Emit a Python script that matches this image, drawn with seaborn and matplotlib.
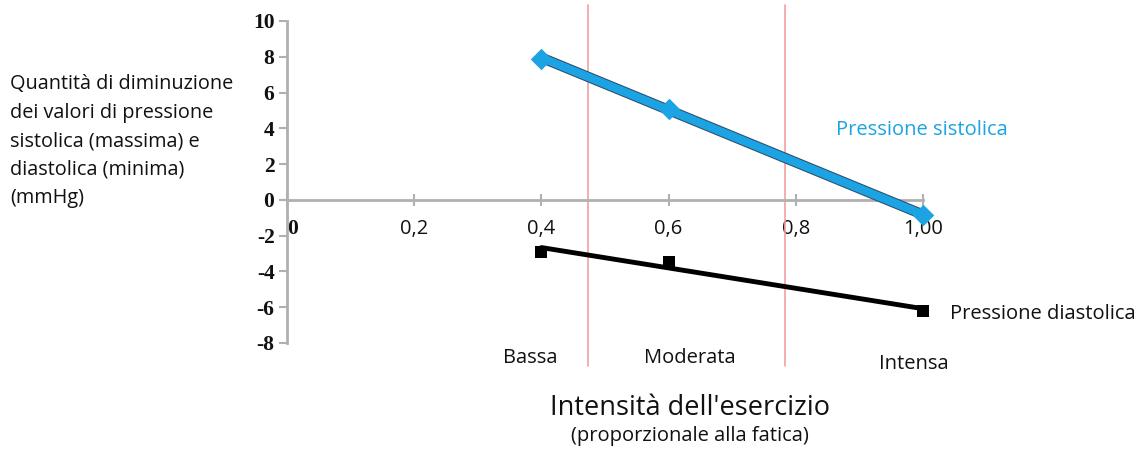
import numpy as np
import pandas as pd
import matplotlib as mpl
mpl.use("Agg")
import matplotlib.pyplot as plt
import matplotlib.patheffects as pe
import seaborn as sns

sns.set_style("white")
plt.rcParams['font.family'] = ['Open Sans', 'DejaVu Sans']
plt.rcParams['text.color'] = "#111111"

# data
intensita = [0.4, 0.6, 1.0]
sistolica = [7.9, 5.1, -0.85]
diastolica = [-2.9, -3.45, -6.2]
x_ticks = [0, 0.2, 0.4, 0.6, 0.8, 1.0]
x_ticklabels = ["0", "0,2", "0,4", "0,6", "0,8", "1,00"]
y_ticks = [10, 8, 6, 4, 2, 0, -2, -4, -6, -8]
soglie = [0.474, 0.783]
categorie = ["Bassa", "Moderata", "Intensa"]
cat_pos = [(530, 358), (690, 358), (914, 364)]

blu = "#1CA3E3"
W, H = 1145, 453

fig = plt.figure(figsize=(W / 100, H / 100), dpi=100)
ax = fig.add_axes([287 / W, 1 - 343 / H, 636 / W, 322 / H])

df = pd.DataFrame({"x": intensita, "sis": sistolica, "dia": diastolica})

sns.regplot(data=df, x="x", y="sis", ci=None, ax=ax, marker="D",
            scatter_kws={"s": 120, "color": blu, "alpha": 1, "linewidths": 0,
                         "clip_on": False, "zorder": 4},
            line_kws={"color": blu, "lw": 6, "zorder": 3,
                      "path_effects": [pe.withStroke(linewidth=7.5, foreground="#2E4D6B")]})
sns.regplot(data=df, x="x", y="dia", ci=None, ax=ax, marker="s",
            scatter_kws={"s": 85, "color": "black", "alpha": 1, "linewidths": 0,
                         "clip_on": False, "zorder": 4},
            line_kws={"color": "black", "lw": 3.5, "zorder": 3})

for s in soglie:
    ax.axvline(s, ymin=-0.07, ymax=1.05, color="#F2A0A0", lw=1.2, clip_on=False, zorder=1)

ax.set_xlim(0, 1.0)
ax.set_ylim(-8, 10)
ax.set_xlabel("")
ax.set_ylabel("")

for side in ["top", "right"]:
    ax.spines[side].set_visible(False)
ax.spines["bottom"].set_position(("data", 0))
for side in ["left", "bottom"]:
    ax.spines[side].set_color("#B0B0B0")
    ax.spines[side].set_linewidth(2)

ax.set_yticks(y_ticks)
ax.set_yticklabels([str(v) for v in y_ticks], family="Liberation Serif",
                   fontweight="bold", fontsize=15.5, color="#111111")
ax.tick_params(axis="y", direction="out", length=6, width=1.5, color="#B0B0B0", pad=3, left=True)

ax.set_xticks(x_ticks)
ax.set_xticklabels(x_ticklabels, fontsize=14.5, color="#111111")
ax.tick_params(axis="x", direction="inout", length=8, width=1.5, color="#B0B0B0", pad=10, bottom=True)
lab0 = ax.get_xticklabels()[0]
lab0.set_family("Liberation Serif")
lab0.set_fontweight("bold")
lab0.set_fontsize(15.5)
lab0.set_horizontalalignment("left")

fig.text(10 / W, 1 - 141 / H,
         "Quantità di diminuzione\ndei valori di pressione\nsistolica (massima) e\ndiastolica (minima)\n(mmHg)",
         fontsize=14.3, va="center", ha="left", linespacing=1.55)

fig.text(922 / W, 1 - 130 / H, "Pressione sistolica", color=blu, fontsize=14.5, ha="center", va="center")
fig.text(1043 / W, 1 - 314 / H, "Pressione diastolica", fontsize=14.5, ha="center", va="center")

for c, (px, py) in zip(categorie, cat_pos):
    fig.text(px / W, 1 - py / H, c, fontsize=14.5, ha="center", va="center")

fig.text(690 / W, 1 - 408 / H, "Intensità dell'esercizio", fontsize=19.5, ha="center", va="center")
fig.text(690 / W, 1 - 436 / H, "(proporzionale alla fatica)", fontsize=14.5, ha="center", va="center")

fig.savefig("out.png", dpi=100)
